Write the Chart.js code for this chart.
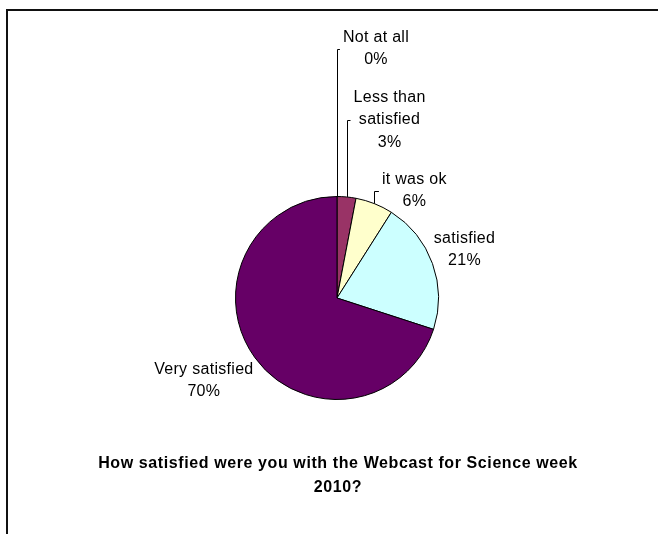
<!DOCTYPE html>
<html>
<head>
<meta charset="utf-8">
<script src="https://cdn.jsdelivr.net/npm/chart.js@4"></script>
<style>
  html, body { margin: 0; padding: 0; background: #fff; }
  #wrap { position: relative; width: 658px; height: 534px; overflow: hidden; }
  #frame { position: absolute; left: 6px; top: 9px; width: 700px; height: 600px;
           border-top: 2px solid #111; border-left: 2px solid #111; }
  canvas { position: absolute; left: 0; top: 0; }
</style>
</head>
<body>
<div id="wrap">
  <div id="frame"></div>
  <canvas id="myChart" width="658" height="534"></canvas>
</div>
<script>
const categories = ['Not at all', 'Less than satisfied', 'it was ok', 'satisfied', 'Very satisfied'];
const labelLines = [['Not at all'], ['Less than', 'satisfied'], ['it was ok'], ['satisfied'], ['Very satisfied']];
const values = [0, 3, 6, 21, 70];
const colors = ['#9999FF', '#993366', '#FFFFCC', '#CCFFFF', '#660066'];
const titleLines = ['How satisfied were you with the Webcast for Science week', '2010?'];

// label block offset from the slice's outer mid point, and whether a leader line is drawn
const labelOffsets = [[39, -148], [43, -77], [40, -13], [32, -14], [-51, 23]];
const leaders = [true, true, true, false, false];

const labelPlugin = {
  id: 'excelLabels',
  afterDraw(chart) {
    const ctx = chart.ctx;
    const meta = chart.getDatasetMeta(0);
    const total = values.reduce((a, b) => a + b, 0);
    const lineH = 22.5;
    ctx.save();
    ctx.font = '16px "Liberation Sans", Arial, sans-serif';
    ctx.letterSpacing = '0.3px';
    ctx.fillStyle = '#000';
    ctx.strokeStyle = '#000';
    ctx.lineWidth = 1;
    ctx.textAlign = 'center';
    ctx.textBaseline = 'middle';
    meta.data.forEach((arc, i) => {
      const mid = (arc.startAngle + arc.endAngle) / 2;
      const px = arc.x + Math.cos(mid) * arc.outerRadius;
      const py = arc.y + Math.sin(mid) * arc.outerRadius;
      const bx = px + labelOffsets[i][0];
      const by = py + labelOffsets[i][1];
      const lines = labelLines[i].concat([Math.round(values[i] / total * 100) + '%']);
      const top = by - (lines.length - 1) * lineH / 2;
      let maxW = 0;
      lines.forEach((t, k) => {
        maxW = Math.max(maxW, ctx.measureText(t).width);
        ctx.fillText(t, bx, top + k * lineH);
      });
      if (leaders[i]) {
        const ex = bx - maxW / 2 - 3;
        ctx.beginPath();
        ctx.moveTo(Math.round(px) + 0.5, py);
        ctx.lineTo(Math.round(px) + 0.5, Math.round(by) + 0.5);
        ctx.lineTo(ex, Math.round(by) + 0.5);
        ctx.stroke();
      }
    });
    ctx.font = 'bold 16px "Liberation Sans", Arial, sans-serif';
    ctx.letterSpacing = '0.6px';
    titleLines.forEach((t, k) => ctx.fillText(t, 338, 464 + k * 23.5));
    ctx.restore();
  }
};

const data = {
  labels: categories,
  datasets: [
    {
      data: values,
      backgroundColor: colors,
      borderColor: '#000',
      borderWidth: 1
    }
  ]
};

const config = {
  type: 'pie',
  data: data,
  options: {
    responsive: false,
    animation: false,
    layout: { padding: { left: 235, right: 219, top: 196, bottom: 134 } },
    plugins: {
      legend: { display: false },
      tooltip: { enabled: false }
    }
  },
  plugins: [labelPlugin]
};

const myChart = new Chart(document.getElementById('myChart'), config);
</script>
</body>
</html>
